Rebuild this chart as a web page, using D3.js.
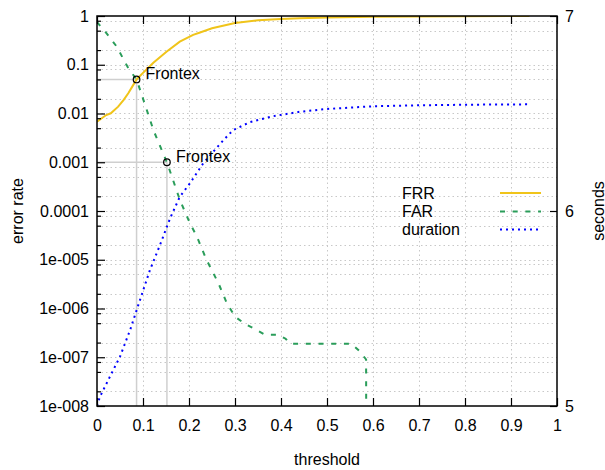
<!DOCTYPE html>
<html><head><meta charset="utf-8">
<script src="https://cdn.jsdelivr.net/npm/d3@7"></script>
<style>
body{margin:0;background:#fff;}
svg text{font-family:"Liberation Sans",Arial,sans-serif;font-size:16px;fill:#000;}
</style></head><body>
<svg id="c" width="605" height="470"></svg>
<script>
// ---- data ----
const xTicks = [0,0.1,0.2,0.3,0.4,0.5,0.6,0.7,0.8,0.9,1];
const xTickLabels = ["0","0.1","0.2","0.3","0.4","0.5","0.6","0.7","0.8","0.9","1"];
const yTicks = [1,0.1,0.01,0.001,0.0001,1e-5,1e-6,1e-7,1e-8];
const yTickLabels = ["1","0.1","0.01","0.001","0.0001","1e-005","1e-006","1e-007","1e-008"];
const yMinorMultipliers = [2,5,8];
const y2Ticks = [5,6,7];
const y2TickLabels = ["5","6","7"];

const frrThreshold = [0,0.02,0.03,0.046,0.058,0.068,0.077,0.086,0.1,0.1225,0.151,0.18,0.209,0.224,0.25,0.3,0.35,0.4,0.44,0.5,0.6,0.7,0.8,0.9,0.94];
const frrRate      = [0.0068,0.0093,0.0101,0.0138,0.019,0.026,0.036,0.05,0.068,0.11,0.185,0.297,0.41,0.46,0.56,0.72,0.82,0.87,0.9,0.935,0.965,0.982,0.991,0.995,0.996];

const farThreshold = [0,0.02,0.043,0.068,0.086,0.108,0.1225,0.144,0.152,0.18,0.202,0.217,0.238,0.264,0.282,0.3,0.322,0.343,0.365,0.394,0.41,0.42,0.553,0.572,0.585,0.586];
const farRate      = [0.75,0.45,0.235,0.085,0.05,0.012,0.0046,0.0015,0.001,1.7e-4,5.6e-5,3e-5,1e-5,3.3e-6,1.3e-6,6.8e-7,4.8e-7,3.8e-7,2.9e-7,2.9e-7,2.4e-7,1.9e-7,1.9e-7,1.3e-7,9e-8,1e-12];

const durThreshold = [0,0.0065,0.028,0.05,0.072,0.0935,0.115,0.137,0.159,0.18,0.202,0.231,0.275,0.296,0.333,0.38,0.441,0.499,0.6,0.702,0.804,0.94];
const durSeconds   = [5.0,5.048,5.15,5.253,5.39,5.544,5.697,5.826,5.963,6.073,6.142,6.245,6.364,6.415,6.456,6.485,6.509,6.523,6.537,6.542,6.545,6.547];

const frontexThreshold = [0.086,0.152];
const frontexRate = [0.05,0.001];
const frontexLabels = ["Frontex","Frontex"];

const seriesNames = ["FRR","FAR","duration"];
const seriesColors = ["#f0c41a","#2a9d5a","#0000ff"];
const seriesDash = [null,"5,7.7","2,4"];

// ---- layout ----
const L=97,R=557,T=16,B=406;
const svg=d3.select("#c");
const x=d3.scaleLinear().domain([0,1]).range([L,R]);
const y=d3.scaleLog().domain([1e-8,1]).range([B,T]);
const y2=d3.scaleLinear().domain([5,7]).range([B,T]);

const yMinor=[];
yTicks.slice(1).forEach(v=>yMinorMultipliers.forEach(m=>yMinor.push(v*m)));
const yGridVals=yTicks.concat(yMinor);

svg.append("defs").append("clipPath").attr("id","clip")
  .append("rect").attr("x",L).attr("y",T).attr("width",R-L).attr("height",B-T);

// grid
const grid=svg.append("g").attr("stroke","#c8c8c8").attr("stroke-width",1).attr("stroke-dasharray","1.5,3");
grid.selectAll(".gx").data(xTicks.slice(1,-1)).enter().append("line")
  .attr("x1",d=>x(d)+0.5).attr("x2",d=>x(d)+0.5).attr("y1",T).attr("y2",B);
grid.selectAll(".gy").data(yGridVals.filter(v=>v<1&&v>1e-8)).enter().append("line")
  .attr("y1",d=>Math.round(y(d))+0.5).attr("y2",d=>Math.round(y(d))+0.5).attr("x1",L).attr("x2",R);

// Frontex guide lines
const guides=svg.append("g").attr("stroke","#cfcfcf").attr("stroke-width",1.5);
frontexThreshold.forEach((t,i)=>{
  guides.append("line").attr("x1",L).attr("x2",x(t)).attr("y1",y(frontexRate[i])).attr("y2",y(frontexRate[i]));
  guides.append("line").attr("x1",x(t)).attr("x2",x(t)).attr("y1",y(frontexRate[i])).attr("y2",B);
});

// curves
const plot=svg.append("g").attr("clip-path","url(#clip)");
const lineY=d3.line().x(d=>x(d[0])).y(d=>y(d[1]));
const lineY2=d3.line().x(d=>x(d[0])).y(d=>y2(d[1]));
const frrData=frrThreshold.map((t,i)=>[t,frrRate[i]]);
const farData=farThreshold.map((t,i)=>[t,farRate[i]]);
const durData=durThreshold.map((t,i)=>[t,durSeconds[i]]);
[[frrData,lineY],[farData,lineY],[durData,lineY2]].forEach(([data,gen],i)=>{
  plot.append("path").attr("d",gen(data)).attr("fill","none")
    .attr("stroke",seriesColors[i]).attr("stroke-width",2)
    .attr("stroke-dasharray",seriesDash[i]);
});

// Frontex points
frontexThreshold.forEach((t,i)=>{
  svg.append("circle").attr("cx",x(t)).attr("cy",y(frontexRate[i])).attr("r",3.3)
    .attr("fill","none").attr("stroke","#000").attr("stroke-width",1.2);
  svg.append("text").attr("x",x(t)+9).attr("y",y(frontexRate[i])-6).attr("dy","0.35em").text(frontexLabels[i]);
});

// axes
function styleAxis(g){g.select(".domain").remove();g.selectAll(".tick line").attr("stroke","#000").attr("stroke-width",1.2);
  g.selectAll(".tick text").attr("font-family",null).attr("font-size",null).attr("fill","#000");}
svg.append("g").attr("transform",`translate(0,${B})`)
  .call(d3.axisBottom(x).tickValues(xTicks).tickSize(-8).tickPadding(13.5).tickFormat((d,i)=>xTickLabels[i]))
  .call(styleAxis);
svg.append("g").attr("transform",`translate(0,${T})`)
  .call(d3.axisTop(x).tickValues(xTicks).tickSize(-8).tickFormat(""))
  .call(styleAxis);
svg.append("g").attr("transform",`translate(${L},0)`)
  .call(d3.axisLeft(y).tickValues(yTicks).tickSize(-8).tickPadding(8).tickFormat((d,i)=>yTickLabels[i]))
  .call(styleAxis);
svg.append("g").attr("transform",`translate(${L},0)`)
  .call(d3.axisLeft(y).tickValues(yMinor).tickSize(-4).tickFormat(""))
  .call(styleAxis);
svg.append("g").attr("transform",`translate(${R},0)`)
  .call(d3.axisRight(y2).tickValues(y2Ticks).tickSize(-7).tickPadding(8).tickFormat((d,i)=>y2TickLabels[i]))
  .call(styleAxis);

// border
svg.append("rect").attr("x",L).attr("y",T).attr("width",R-L).attr("height",B-T)
  .attr("fill","none").attr("stroke","#000").attr("stroke-width",1.5);

// axis titles
svg.append("text").attr("x",(L+R)/2).attr("y",465).attr("text-anchor","middle").text("threshold");
svg.append("text").attr("transform",`translate(22.5,${(T+B)/2}) rotate(-90)`).attr("text-anchor","middle").text("error rate");
svg.append("text").attr("transform",`translate(603.5,${(T+B)/2}) rotate(-90)`).attr("text-anchor","middle").text("seconds");

// legend
const legY=[193,211.5,229.5];
seriesNames.forEach((n,i)=>{
  svg.append("text").attr("x",402).attr("y",legY[i]).attr("dy","0.35em").text(n);
  svg.append("line").attr("x1",500).attr("x2",541).attr("y1",legY[i]).attr("y2",legY[i])
    .attr("stroke",seriesColors[i]).attr("stroke-width",2).attr("stroke-dasharray",seriesDash[i]);
});
</script>
</body></html>
